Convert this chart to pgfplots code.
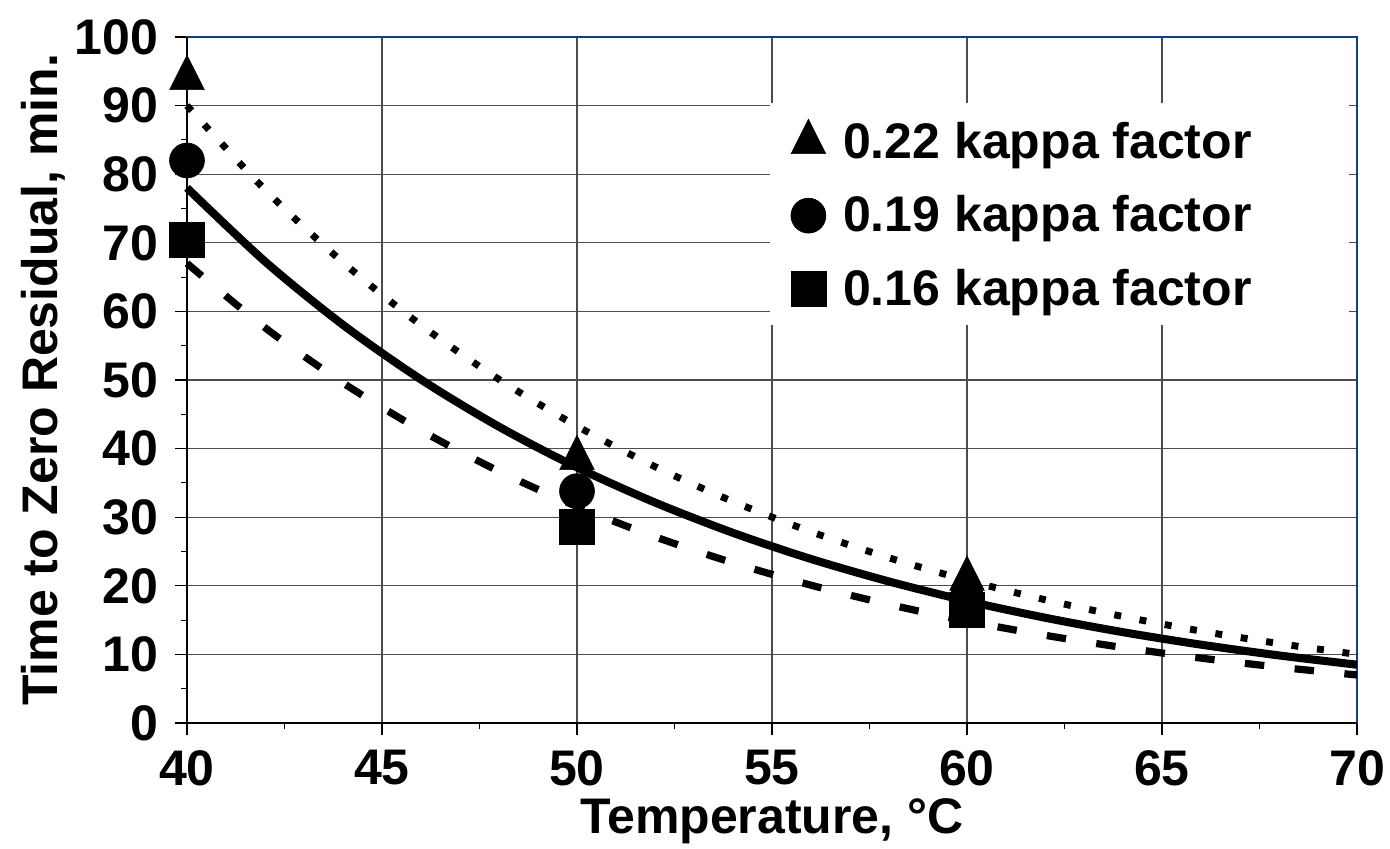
\documentclass[border=0pt]{standalone}
\usepackage{fontspec}
\setmainfont{Liberation Sans}
\usepackage{pgfplots}
\pgfplotsset{compat=1.18}
\definecolor{navy}{RGB}{20,60,140}
\newcommand{\bigfont}{\fontsize{18}{21}\selectfont\bfseries}
\begin{document}
\begin{tikzpicture}
\begin{axis}[
  at={(0,0)}, anchor=south west,
  scale only axis, width=421.2pt, height=246.96pt,
  xmin=40, xmax=70, ymin=0, ymax=100,
  xtick={40,45,...,70}, ytick={0,10,...,100},
  minor x tick num=1, minor y tick num=1,
  tick pos=left, tick align=outside,
  major tick length=4.3pt, minor tick length=2pt,
  grid=major, major grid style={black!70, line width=0.4pt},
  every tick/.style={black, line width=0.4pt},
  axis line style={navy, line width=0.8pt},
  clip=false,
  ticklabel style={font=\bigfont},
  /pgf/number format/assume math mode=true,
  xticklabel style={yshift=-2pt},
  yticklabel style={xshift=-2.6pt},
  xlabel={Temperature, °C},
  ylabel={Time to Zero Residual, min.},
  every axis x label/.style={at={(axis description cs:0.5,0)}, anchor=base, yshift=-39.6pt, font=\bigfont},
  every axis y label/.style={at={(axis description cs:-0.1111,0.5)}, anchor=base, rotate=90, font=\bigfont},
  legend style={at={(axis description cs:0.5157,0.881)}, anchor=north west, draw=none, fill=none,
    inner sep=0pt, row sep=11.9pt, nodes={inner sep=0pt}, font=\bigfont},
  legend cell align=left,
]
\fill[white] (rel axis cs:0.498,0.580) rectangle (rel axis cs:0.993,0.904);

% fitted curves
\addplot[forget plot, black, line width=2.5pt, dash pattern=on 2.5pt off 6.75pt, smooth] coordinates {
 (40,90.00) (42,77.74) (44,67.14) (46,58.00) (48,50.09) (50,43.27) (52,37.37) (54,32.28)
 (56,27.88) (58,24.08) (60,20.80) (62,17.97) (64,15.52) (66,13.40) (68,11.58) (70,10.00)};
\addplot[forget plot, black, line width=2.9pt, smooth] coordinates {
 (40,78.00) (42,67.28) (44,58.04) (46,50.07) (48,43.19) (50,37.26) (52,32.14) (54,27.72)
 (56,23.91) (58,20.63) (60,17.79) (62,15.35) (64,13.24) (66,11.42) (68,9.85) (70,8.50)};
\addplot[forget plot, black, line width=2.6pt, dash pattern=on 7pt off 11pt, smooth] coordinates {
 (40,67.00) (42,57.63) (44,49.58) (46,42.65) (48,36.69) (50,31.56) (52,27.15) (54,23.35)
 (56,20.09) (58,17.28) (60,14.86) (62,12.79) (64,11.00) (66,9.46) (68,8.14) (70,7.00)};

% measured points
\addplot[only marks, mark=triangle*, mark size=7.2pt, mark options={yscale=1.15, draw=black, fill=black, line width=0.2pt}]
 coordinates {(40,94.0) (50,38.6) (60,21.0)};
\addlegendentry{\hspace*{6.2pt}0.22 kappa factor}
\addplot[only marks, mark=*, mark size=6.3pt, mark options={draw=black, fill=black, line width=0.2pt}]
 coordinates {(40,82.0) (50,33.8) (60,18.0)};
\addlegendentry{\hspace*{6.2pt}0.19 kappa factor}
\addplot[only marks, mark=square*, mark size=6.3pt, mark options={draw=black, fill=black, line width=0.2pt}]
 coordinates {(40,70.4) (50,28.6) (60,16.5)};
\addlegendentry{\hspace*{6.2pt}0.16 kappa factor}

\draw[black, line width=0.8pt] (rel axis cs:0,1) -- (rel axis cs:0,0) -- (rel axis cs:1,0);
\end{axis}
\pgfresetboundingbox
\path[use as bounding box] (-67.32pt,-45pt) rectangle (433.08pt,260.28pt);
\end{tikzpicture}
\end{document}
